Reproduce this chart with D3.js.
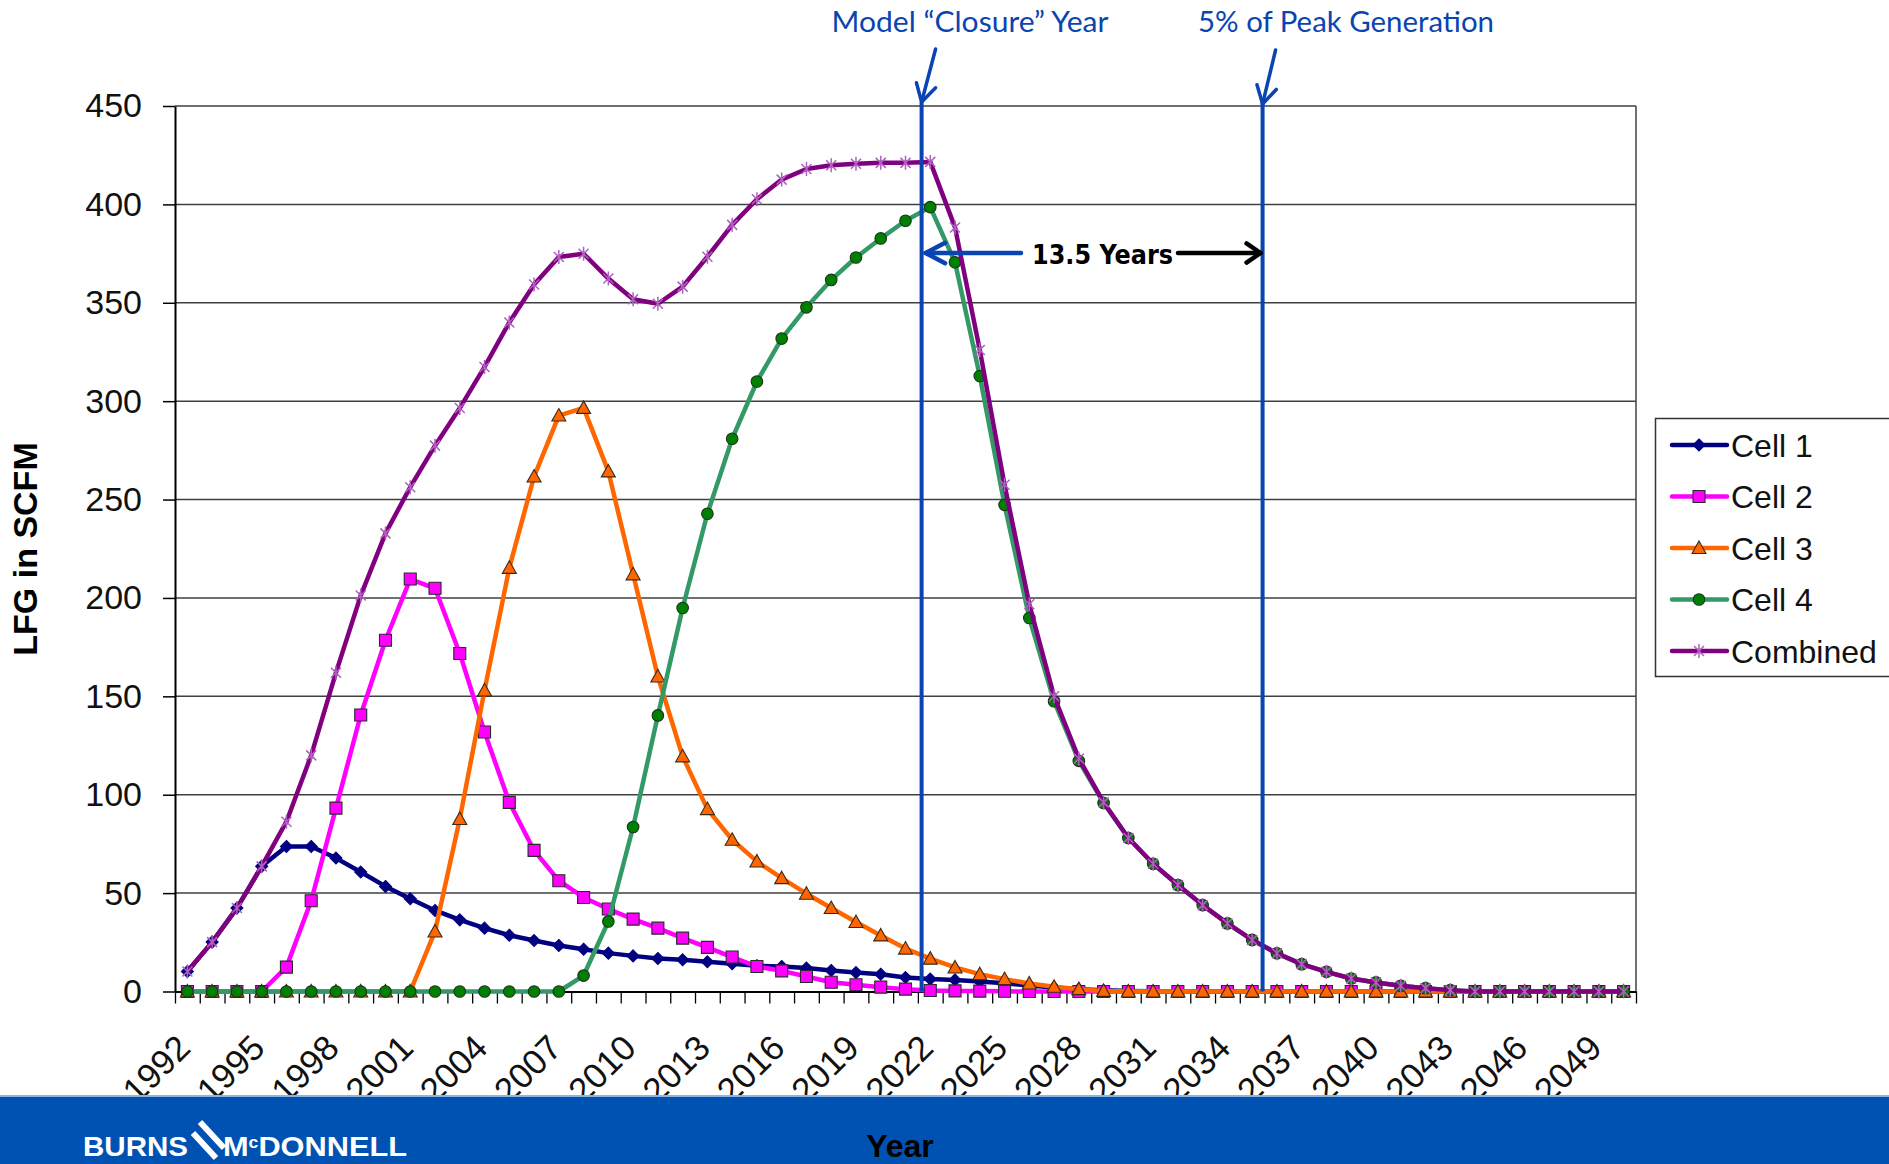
<!DOCTYPE html>
<html>
<head>
<meta charset="utf-8">
<script src="https://cdn.jsdelivr.net/npm/d3@7"></script>
<style>
  body { margin: 0; background: #fff; }
  svg { display: block; }
</style>
</head>
<body>
<div id="chart"></div>
<script>
// categories
var years = [1992, 1993, 1994, 1995, 1996, 1997, 1998, 1999, 2000, 2001,
             2002, 2003, 2004, 2005, 2006, 2007, 2008, 2009, 2010, 2011,
             2012, 2013, 2014, 2015, 2016, 2017, 2018, 2019, 2020, 2021,
             2022, 2023, 2024, 2025, 2026, 2027, 2028, 2029, 2030, 2031,
             2032, 2033, 2034, 2035, 2036, 2037, 2038, 2039, 2040, 2041,
             2042, 2043, 2044, 2045, 2046, 2047, 2048, 2049, 2050];

// series values (LFG in SCFM)
var cell1 = [10.2, 25.1, 42.4, 63.6, 73.7, 73.7, 67.8, 60.7, 53.4, 47.1,
             41.2, 36.4, 32.2, 28.6, 25.9, 23.4, 21.5, 19.5, 18.1, 16.8,
             16.1, 15.1, 14.1, 13.1, 12.7, 11.9, 10.7, 9.6, 8.8, 7.1,
             6.3, 5.9, 5.1, 4.2, 3.0, 2.0, 1.2, 0.6, 0.3, 0.1,
             0, 0, 0, 0, 0, 0, 0, 0, 0, 0,
             0, 0, 0, 0, 0, 0, 0, 0, 0];
var cell2 = [0, 0, 0, 0, 12.4, 46.1, 93.2, 140.5, 178.5, 209.6,
             204.9, 171.8, 131.9, 96.1, 71.7, 56.3, 47.8, 41.9, 36.8, 32.2,
             27.1, 22.4, 17.5, 12.7, 10.5, 7.6, 4.7, 3.4, 2.2, 1.2,
             0.5, 0.3, 0.2, 0.1, 0, 0, 0, 0, 0, 0,
             0, 0, 0, 0, 0, 0, 0, 0, 0, 0,
             0, 0, 0, 0, 0, 0, 0, 0, 0];
var cell3 = [0, 0, 0, 0, 0, 0, 0, 0, 0, 0,
             30.5, 87.7, 153.0, 215.3, 261.7, 292.7, 296.6, 264.3, 212.0, 160.1,
             119.5, 92.7, 77.1, 66.1, 57.6, 49.7, 42.4, 35.3, 28.5, 21.8,
             16.7, 12.2, 8.8, 6.3, 4.1, 2.4, 1.2, 0.3, 0, 0,
             0, 0, 0, 0, 0, 0, 0, 0, 0, 0,
             0, 0, 0, 0, 0, 0, 0, 0, 0];
var cell4 = [0, 0, 0, 0, 0, 0, 0, 0, 0, 0,
             0, 0, 0, 0, 0, 0, 8.1, 35.6, 83.6, 140.3,
             194.9, 242.8, 280.9, 310.0, 331.8, 347.7, 361.6, 373.0, 382.7, 391.7,
             398.6, 370.6, 312.8, 247.3, 189.8, 147.5, 117.2, 95.8, 78.0, 64.9,
             54.1, 43.9, 34.6, 26.2, 19.4, 13.9, 10.0, 6.6, 4.6, 2.9,
             1.7, 0.7, 0, 0, 0, 0, 0, 0, 0];
var combined = [10.2, 25.1, 42.4, 63.6, 86.3, 120.0, 162.0, 201.2, 232.8, 256.3,
                277.4, 296.5, 317.4, 340.0, 359.3, 373.3, 374.9, 362.3, 351.8, 349.5,
                358.2, 373.4, 389.6, 402.6, 412.6, 418.0, 419.9, 420.7, 421.1, 421.1,
                421.6, 388.3, 326.0, 257.5, 196.8, 150.0, 118.4, 96.1, 78.0, 64.9,
                54.1, 43.9, 34.6, 26.2, 19.4, 13.9, 10.0, 6.6, 4.6, 2.9,
                1.7, 0.7, 0, 0, 0, 0, 0, 0, 0];

var seriesNames = ['Cell 1', 'Cell 2', 'Cell 3', 'Cell 4', 'Combined'];
var yTicks = [0, 50, 100, 150, 200, 250, 300, 350, 400, 450];
var xLabelYears = [1992, 1995, 1998, 2001, 2004, 2007, 2010, 2013, 2016, 2019,
                   2022, 2025, 2028, 2031, 2034, 2037, 2040, 2043, 2046, 2049];

// annotation positions (in years)
var closureYear = 2021.65;
var fivePctYear = 2035.42;
var closureLabel = 'Model \u201cClosure\u201d Year';
var fivePctLabel = '5% of Peak Generation';
var spanLabel = '13.5 Years';

var width = 1889, height = 1164;
var plot = {l: 175, r: 1636, t: 106, b: 991.5};
var annoBlue = '#0A44B2';

var styles = [
    {line: '#000080', fill: '#000080', stroke: '#000080', shape: 'diamond'},
    {line: '#FF00FF', fill: '#FF00FF', stroke: '#2a2a2a', shape: 'square'},
    {line: '#FF6600', fill: '#FF6600', stroke: '#3a2a1a', shape: 'triangle'},
    {line: '#339966', fill: '#008000', stroke: '#1a331a', shape: 'circle'},
    {line: '#800080', fill: 'none', stroke: '#B060C0', shape: 'star'}
];
var allSeries = [cell1, cell2, cell3, cell4, combined];

var svg = d3.select('#chart').append('svg')
    .attr('width', width)
    .attr('height', height);

svg.append('rect')
    .attr('width', width)
    .attr('height', height)
    .attr('fill', 'white');

var xScale = d3.scaleLinear()
    .domain([years[0] - 0.5, years[years.length - 1] + 0.5])
    .range([plot.l, plot.r]);

var yScale = d3.scaleLinear()
    .domain([0, 450])
    .range([plot.b, plot.t]);

// gridlines
svg.append('g')
    .selectAll('line')
    .data(yTicks.filter(function(d) { return d > 0; }))
    .enter()
    .append('line')
    .attr('x1', plot.l)
    .attr('x2', plot.r)
    .attr('y1', function(d) { return yScale(d); })
    .attr('y2', function(d) { return yScale(d); })
    .attr('stroke', '#404040')
    .attr('stroke-width', 1.5);

// right border of plot area
svg.append('line')
    .attr('x1', plot.r).attr('x2', plot.r)
    .attr('y1', plot.t).attr('y2', plot.b)
    .attr('stroke', '#404040')
    .attr('stroke-width', 1.5);

// y axis
var yAxis = svg.append('g')
    .attr('transform', 'translate(' + plot.l + ',0)')
    .call(d3.axisLeft(yScale).tickValues(yTicks).tickSize(12).tickPadding(21).tickSizeOuter(0));
yAxis.select('.domain').attr('stroke', 'black').attr('stroke-width', 2);
yAxis.selectAll('.tick line').attr('stroke', 'black').attr('stroke-width', 1.5);
yAxis.selectAll('.tick text')
    .attr('fill', '#111')
    .style('font-family', '"Liberation Sans", Arial, sans-serif')
    .style('font-size', '34px');

// x axis (ticks between categories)
var boundaries = years.map(function(y) { return y - 0.5; });
boundaries.push(years[years.length - 1] + 0.5);
var xAxis = svg.append('g')
    .attr('transform', 'translate(0,' + plot.b + ')')
    .call(d3.axisBottom(xScale).tickValues(boundaries).tickSize(12).tickSizeOuter(0).tickFormat(''));
xAxis.select('.domain').attr('stroke', 'black').attr('stroke-width', 2);
xAxis.selectAll('.tick line').attr('stroke', 'black').attr('stroke-width', 1.3);

svg.append('g')
    .selectAll('text')
    .data(xLabelYears)
    .enter()
    .append('text')
    .attr('transform', function(d) { return 'translate(' + (xScale(d) + 5) + ',1050) rotate(-45)'; })
    .attr('text-anchor', 'end')
    .attr('fill', '#111')
    .style('font-family', '"Liberation Sans", Arial, sans-serif')
    .style('font-size', '35px')
    .text(function(d) { return d; });

// marker shapes
function markerPath(shape) {
    if (shape == 'diamond') return 'M0,-6L6,0L0,6L-6,0Z';
    if (shape == 'square') return 'M-6,-6H6V6H-6Z';
    if (shape == 'triangle') return 'M0,-7L7,5.5L-7,5.5Z';
    if (shape == 'circle') return d3.symbol(d3.symbolCircle, 105)();
    return 'M-5,-5L5,5M5,-5L-5,5M0,-7V7';
}

function drawMarker(sel, st) {
    sel.append('path')
        .attr('d', markerPath(st.shape))
        .attr('fill', st.fill)
        .attr('stroke', st.stroke)
        .attr('stroke-width', st.shape == 'star' ? 1.5 : 1.1);
}

var line = d3.line()
    .x(function(d, i) { return xScale(years[i]); })
    .y(function(d) { return yScale(d); });

allSeries.forEach(function(values, k) {
    var st = styles[k];
    var g = svg.append('g').attr('class', 'series');
    g.append('path')
        .attr('d', line(values))
        .attr('fill', 'none')
        .attr('stroke', st.line)
        .attr('stroke-width', 4.5)
        .attr('stroke-linejoin', 'round');
    g.selectAll('.mk')
        .data(values)
        .enter()
        .append('g')
        .attr('class', 'mk')
        .attr('transform', function(d, i) { return 'translate(' + xScale(years[i]) + ',' + yScale(d) + ')'; })
        .each(function() { drawMarker(d3.select(this), st); });
});

// annotation vertical lines
[closureYear, fivePctYear].forEach(function(y) {
    svg.append('line')
        .attr('x1', xScale(y)).attr('x2', xScale(y))
        .attr('y1', 102).attr('y2', plot.b)
        .attr('stroke', annoBlue)
        .attr('stroke-width', 4);
});

function arrow(x1, y1, x2, y2, color, w, len, ang) {
    var a = Math.atan2(y1 - y2, x1 - x2);
    var g = svg.append('g')
        .attr('stroke', color)
        .attr('stroke-width', w)
        .attr('stroke-linecap', 'round')
        .attr('fill', 'none');
    g.append('line').attr('x1', x1).attr('y1', y1).attr('x2', x2).attr('y2', y2);
    g.append('path')
        .attr('stroke-linejoin', 'round')
        .attr('d', 'M' + (x2 + len * Math.cos(a + ang)) + ',' + (y2 + len * Math.sin(a + ang)) +
            'L' + x2 + ',' + y2 +
            'L' + (x2 + len * Math.cos(a - ang)) + ',' + (y2 + len * Math.sin(a - ang)));
}

var xc = xScale(closureYear), xf = xScale(fivePctYear);
arrow(xc + 14, 49, xc, 102, annoBlue, 3.5, 20, 0.52);
arrow(xf + 13, 50, xf, 104, annoBlue, 3.5, 20, 0.52);
arrow(1021, 253, xc + 4, 253, annoBlue, 4.5, 22, 0.48);
arrow(1178, 253, xf - 2, 253, 'black', 4.5, 17, 0.6);

svg.append('text')
    .attr('x', 970).attr('y', 32)
    .attr('text-anchor', 'middle')
    .attr('fill', annoBlue)
    .attr('textLength', 277).attr('lengthAdjust', 'spacingAndGlyphs')
    .style('font-family', 'Lato, "Open Sans", sans-serif')
    .style('font-size', '28px')
    .text(closureLabel);

svg.append('text')
    .attr('x', 1346).attr('y', 32)
    .attr('text-anchor', 'middle')
    .attr('fill', annoBlue)
    .attr('textLength', 296).attr('lengthAdjust', 'spacingAndGlyphs')
    .style('font-family', 'Lato, "Open Sans", sans-serif')
    .style('font-size', '28px')
    .text(fivePctLabel);

svg.append('text')
    .attr('x', 1032).attr('y', 264)
    .attr('fill', 'black')
    .attr('textLength', 141).attr('lengthAdjust', 'spacingAndGlyphs')
    .style('font-family', '"DejaVu Sans", sans-serif')
    .style('font-weight', 'bold')
    .style('font-size', '26px')
    .text(spanLabel);

// legend
var legend = svg.append('g');
legend.append('rect')
    .attr('x', 1655.5).attr('y', 418.5)
    .attr('width', 300).attr('height', 258)
    .attr('fill', 'white')
    .attr('stroke', '#333')
    .attr('stroke-width', 1.5);

var rows = legend.selectAll('.row')
    .data(seriesNames)
    .enter()
    .append('g')
    .attr('class', 'row')
    .attr('transform', function(d, i) { return 'translate(0,' + (445 + i * 51.5) + ')'; });

rows.append('line')
    .attr('x1', 1672).attr('x2', 1727)
    .attr('stroke', function(d, i) { return styles[i].line; })
    .attr('stroke-width', 4.5)
    .attr('stroke-linecap', 'round');

rows.each(function(d, i) {
    var m = d3.select(this).append('g').attr('transform', 'translate(1699,0)');
    drawMarker(m, styles[i]);
});

rows.append('text')
    .attr('x', 1731)
    .attr('dy', '0.36em')
    .attr('fill', '#111')
    .style('font-family', '"Liberation Sans", Arial, sans-serif')
    .style('font-size', '32px')
    .text(function(d) { return d; });

// y title
svg.append('text')
    .attr('transform', 'translate(37,549) rotate(-90)')
    .attr('text-anchor', 'middle')
    .attr('fill', 'black')
    .style('font-family', '"Liberation Sans", Arial, sans-serif')
    .style('font-weight', 'bold')
    .style('font-size', '34px')
    .text('LFG in SCFM');

// bottom band
svg.append('rect')
    .attr('x', 0).attr('y', 1096)
    .attr('width', width).attr('height', height - 1096)
    .attr('fill', '#0052B2');
svg.append('rect')
    .attr('x', 0).attr('y', 1095)
    .attr('width', width).attr('height', 2)
    .attr('fill', '#8DB4E2');

svg.append('text')
    .attr('x', 900).attr('y', 1157)
    .attr('text-anchor', 'middle')
    .attr('fill', 'black')
    .style('font-family', '"Liberation Sans", Arial, sans-serif')
    .style('font-weight', 'bold')
    .style('font-size', '32px')
    .text('Year');

// logo
var logo = svg.append('g').attr('fill', 'white')
    .style('font-family', '"Liberation Sans", Arial, sans-serif')
    .style('font-weight', 'bold')
    .style('font-size', '28px');
logo.append('text')
    .attr('x', 83).attr('y', 1156)
    .attr('textLength', 105).attr('lengthAdjust', 'spacingAndGlyphs')
    .text('BURNS');
var mc = logo.append('text')
    .attr('x', 223).attr('y', 1156)
    .attr('textLength', 184).attr('lengthAdjust', 'spacingAndGlyphs');
mc.append('tspan').text('M');
mc.append('tspan').attr('dy', -8).style('font-size', '16px').text('c');
mc.append('tspan').attr('dy', 8).text('DONNELL');
logo.append('line')
    .attr('x1', 200).attr('y1', 1122).attr('x2', 224).attr('y2', 1148)
    .attr('stroke', 'white').attr('stroke-width', 6);
logo.append('line')
    .attr('x1', 193).attr('y1', 1133).attr('x2', 216).attr('y2', 1158)
    .attr('stroke', 'white').attr('stroke-width', 6);
</script>
</body>
</html>
